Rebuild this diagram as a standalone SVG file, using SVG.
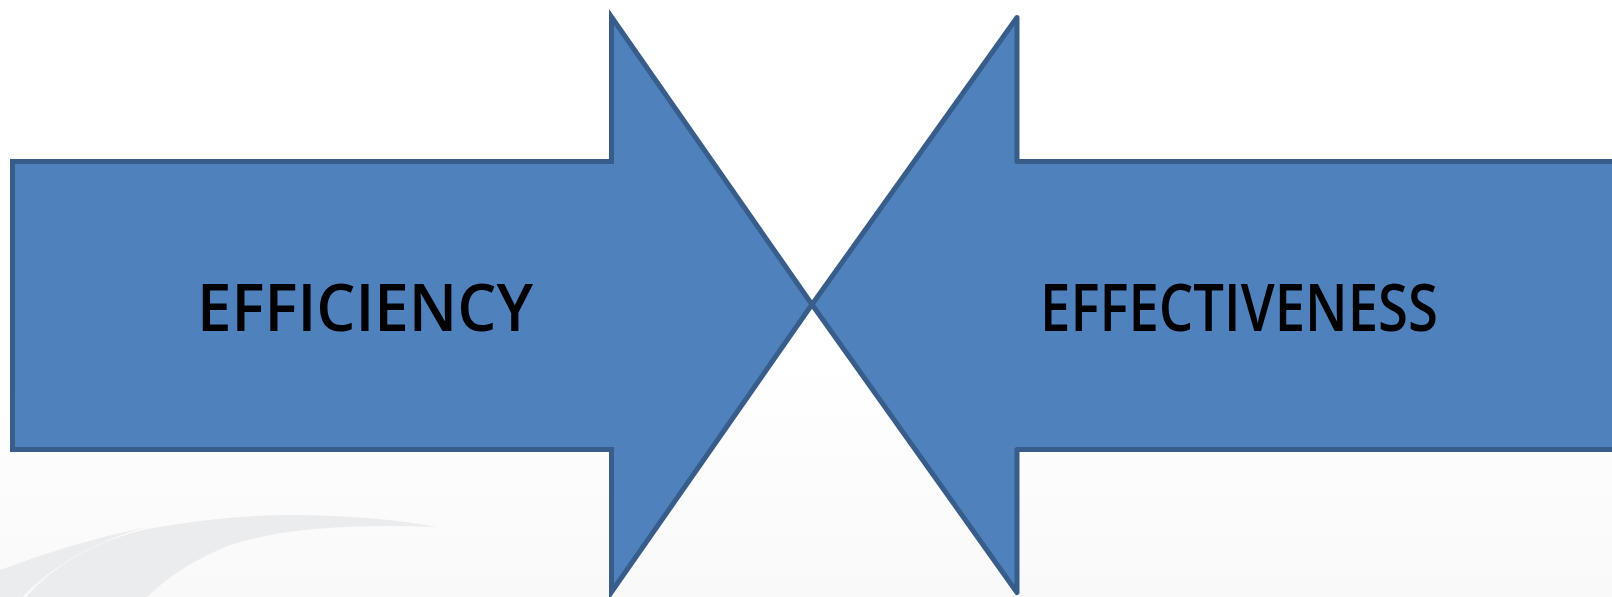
<svg xmlns="http://www.w3.org/2000/svg" width="1612" height="597" viewBox="0 0 1612 597">
  <defs>
    <linearGradient id="bg" x1="0" y1="0" x2="0" y2="1">
      <stop offset="0" stop-color="#ffffff"/>
      <stop offset="0.6" stop-color="#ffffff"/>
      <stop offset="1" stop-color="#f9f9f9"/>
    </linearGradient>
    <style>
      .arrow { fill: #4f81bd; stroke: #385d8a; stroke-width: 5; }
      .label { font-family: "Open Sans", "Liberation Sans", sans-serif; font-size: 66px; font-weight: 600; fill: #000000; }
      .swoosh { fill: #ebecee; stroke: none; }
    </style>
  </defs>
  <rect x="0" y="0" width="1612" height="597" fill="url(#bg)"/>
  <g id="watermark">
    <path class="swoosh" d="M0,570 Q70,543 147,527 Q70,548 22,597 L0,597 Z"/>
    <path class="swoosh" d="M26,597 Q70,547 147,529 Q230,514 300,515 Q380,516 437,527 Q300,522 230,545 Q180,565 147,597 Z"/>
  </g>
  <g id="efficiency">
    <polygon class="arrow" stroke-linejoin="miter" points="12.5,161.5 611.5,161.5 611.5,17 812,304.5 611.5,592 611.5,449.5 12.5,449.5"/>
    <text class="label" x="197" y="331" textLength="336" lengthAdjust="spacingAndGlyphs">EFFICIENCY</text>
  </g>
  <g id="effectiveness">
    <polygon class="arrow" stroke-linejoin="round" points="1630,161.5 1017,161.5 1017,17.5 812,304.5 1017,592.5 1017,449.5 1630,449.5"/>
    <text class="label" x="1040" y="331" textLength="398" lengthAdjust="spacingAndGlyphs">EFFECTIVENESS</text>
  </g>
  <g id="connectors"/>
</svg>
